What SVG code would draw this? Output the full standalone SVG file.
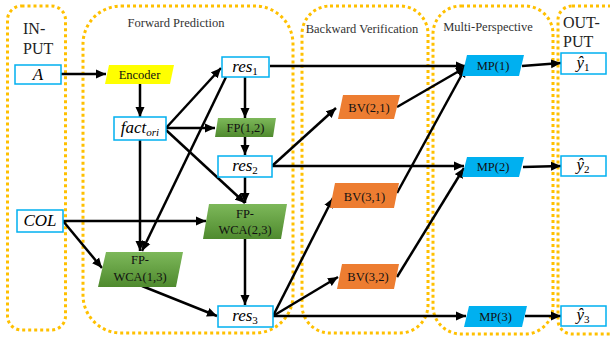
<svg xmlns="http://www.w3.org/2000/svg" width="610" height="337" viewBox="0 0 610 337">
<style>
.grp{fill:none;stroke:#FFC000;stroke-width:3;stroke-dasharray:3 3}
.lbl{font-family:"Liberation Serif","Times New Roman",serif;font-size:12.5px;fill:#333}
.big{font-family:"Liberation Serif","Times New Roman",serif;font-size:16px;fill:#222}
.box{fill:#fff;stroke:#00B0F0;stroke-width:1.5}
.math{font-family:"Liberation Serif","Times New Roman",serif;font-style:italic;font-size:17px;fill:#000}
.nt{font-family:"Liberation Serif","Times New Roman",serif;font-size:12.5px;fill:#111;text-anchor:middle}
.green{fill:url(#gg)}
.orange{fill:#ED7D31}
.blue{fill:#00B0F0}
.c line{stroke:#000;stroke-width:2.5;marker-end:url(#ah)}
</style>
<defs>
<linearGradient id="gg" x1="0" y1="0" x2="0" y2="1">
<stop offset="0" stop-color="#7DB85A"/>
<stop offset="1" stop-color="#4F8A2E"/>
</linearGradient>
<marker id="ah" markerUnits="userSpaceOnUse" markerWidth="11" markerHeight="10" refX="10" refY="5" orient="auto">
<path d="M0,0.5 L10,5 L0,9.5 z" fill="#000"/>
</marker>
</defs>
<rect width="610" height="337" fill="#fff"/>
<!-- groups -->
<rect class="grp" x="7.5" y="6" width="58" height="324" rx="14"/>
<rect class="grp" x="83" y="6" width="210" height="327" rx="38"/>
<rect class="grp" x="302" y="6" width="126" height="327" rx="28"/>
<rect class="grp" x="433" y="6" width="120" height="328" rx="28"/>
<rect class="grp" x="558" y="6" width="70" height="328" rx="14"/>
<text class="big" x="23" y="34">IN-</text>
<text class="big" x="23" y="54">PUT</text>
<text class="lbl" x="176" y="27" text-anchor="middle">Forward Prediction</text>
<text class="lbl" x="362" y="33" text-anchor="middle">Backward Verification</text>
<text class="lbl" x="488" y="31" text-anchor="middle">Multi-Perspective</text>
<text class="big" x="563" y="28">OUT-</text>
<text class="big" x="563" y="47">PUT</text>
<!-- connectors -->
<g class="c" id="connectors">
<line x1="61" y1="74" x2="106" y2="74"/>
<line x1="140" y1="84" x2="140" y2="117"/>
<line x1="166" y1="128" x2="221" y2="68"/>
<line x1="166" y1="128" x2="215" y2="128"/>
<line x1="166" y1="130" x2="245" y2="203"/>
<line x1="140" y1="140" x2="140" y2="251"/>
<line x1="245" y1="77" x2="245" y2="118"/>
<line x1="245" y1="137" x2="245" y2="155"/>
<line x1="226" y1="77" x2="142" y2="251"/>
<line x1="245" y1="177" x2="245" y2="203"/>
<line x1="63" y1="221" x2="206" y2="221"/>
<line x1="63" y1="221" x2="102" y2="268"/>
<line x1="245" y1="239" x2="245" y2="305"/>
<line x1="142" y1="286" x2="217" y2="316"/>
<line x1="270" y1="66" x2="466" y2="66"/>
<line x1="272" y1="166" x2="336" y2="108"/>
<line x1="272" y1="166" x2="464" y2="166"/>
<line x1="397" y1="107" x2="466" y2="67"/>
<line x1="397" y1="193" x2="466" y2="67"/>
<line x1="273" y1="316" x2="333" y2="198"/>
<line x1="273" y1="316" x2="338" y2="277"/>
<line x1="273" y1="316" x2="466" y2="316"/>
<line x1="397" y1="277" x2="464" y2="168"/>
<line x1="522" y1="66" x2="561" y2="63"/>
<line x1="523" y1="167" x2="561" y2="166"/>
<line x1="525" y1="316" x2="561" y2="316"/>
</g>
<!-- nodes -->
<g id="n-A"><rect class="box" x="15" y="65" width="46" height="19"/><text class="math" x="38" y="80" text-anchor="middle">A</text></g>
<g id="n-encoder"><polygon points="109,65 174,65 170,84 105,84" fill="#FFFF00"/><text class="nt" x="139.5" y="79">Encoder</text></g>
<g id="n-fact"><rect class="box" x="114" y="117" width="52" height="23"/><text class="math" x="140" y="133" text-anchor="middle">fact<tspan font-size="11" dy="3">ori</tspan></text></g>
<g id="n-res1"><rect class="box" x="222" y="57" width="47" height="20"/><text class="math" x="245" y="72" text-anchor="middle">res<tspan font-size="11" font-style="normal" dy="3">1</tspan></text></g>
<g id="n-fp12"><polygon class="green" points="218,118 276,118 273,137 215,137"/><text class="nt" x="245.5" y="132">FP(1,2)</text></g>
<g id="n-res2"><rect class="box" x="218" y="156" width="54" height="21"/><text class="math" x="245" y="171" text-anchor="middle">res<tspan font-size="11" font-style="normal" dy="3">2</tspan></text></g>
<g id="n-COL"><rect class="box" x="17" y="210" width="46" height="22"/><text class="math" x="40" y="226" text-anchor="middle">COL</text></g>
<g id="n-fpwca23"><polygon class="green" points="209,204 287,204 281,239 203,239"/><text class="nt" x="245" y="218">FP-</text><text class="nt" x="245" y="234">WCA(2,3)</text></g>
<g id="n-fpwca13"><polygon class="green" points="106,252 183,252 176,287 98,287"/><text class="nt" x="140" y="264">FP-</text><text class="nt" x="140" y="281">WCA(1,3)</text></g>
<g id="n-res3"><rect class="box" x="218" y="306" width="55" height="21"/><text class="math" x="245" y="321" text-anchor="middle">res<tspan font-size="11" font-style="normal" dy="3">3</tspan></text></g>
<g id="n-bv21"><polygon class="orange" points="343,95 400,95 394,119 338,119"/><text class="nt" x="369" y="112">BV(2,1)</text></g>
<g id="n-bv31"><polygon class="orange" points="335,183 399,183 394,208 330,208"/><text class="nt" x="364.5" y="201">BV(3,1)</text></g>
<g id="n-bv32"><polygon class="orange" points="342,264 399,264 394,289 337,289"/><text class="nt" x="368" y="281">BV(3,2)</text></g>
<g id="n-mp1"><polygon class="blue" points="467,55 524,55 519,76 462,76"/><text class="nt" x="493" y="70">MP(1)</text></g>
<g id="n-mp2"><polygon class="blue" points="467,157 524,157 519,177 462,177"/><text class="nt" x="493" y="171">MP(2)</text></g>
<g id="n-mp3"><polygon class="blue" points="469,306 527,306 522,327 464,327"/><text class="nt" x="495.5" y="321">MP(3)</text></g>
<g id="n-y1"><rect class="box" x="561" y="53" width="45" height="21"/><text class="math" x="583" y="68" text-anchor="middle">ŷ<tspan font-size="11" font-style="normal" dy="3">1</tspan></text></g>
<g id="n-y2"><rect class="box" x="561" y="156" width="45" height="20"/><text class="math" x="583" y="170" text-anchor="middle">ŷ<tspan font-size="11" font-style="normal" dy="3">2</tspan></text></g>
<g id="n-y3"><rect class="box" x="561" y="306" width="45" height="20"/><text class="math" x="583" y="320" text-anchor="middle">ŷ<tspan font-size="11" font-style="normal" dy="3">3</tspan></text></g>
</svg>
